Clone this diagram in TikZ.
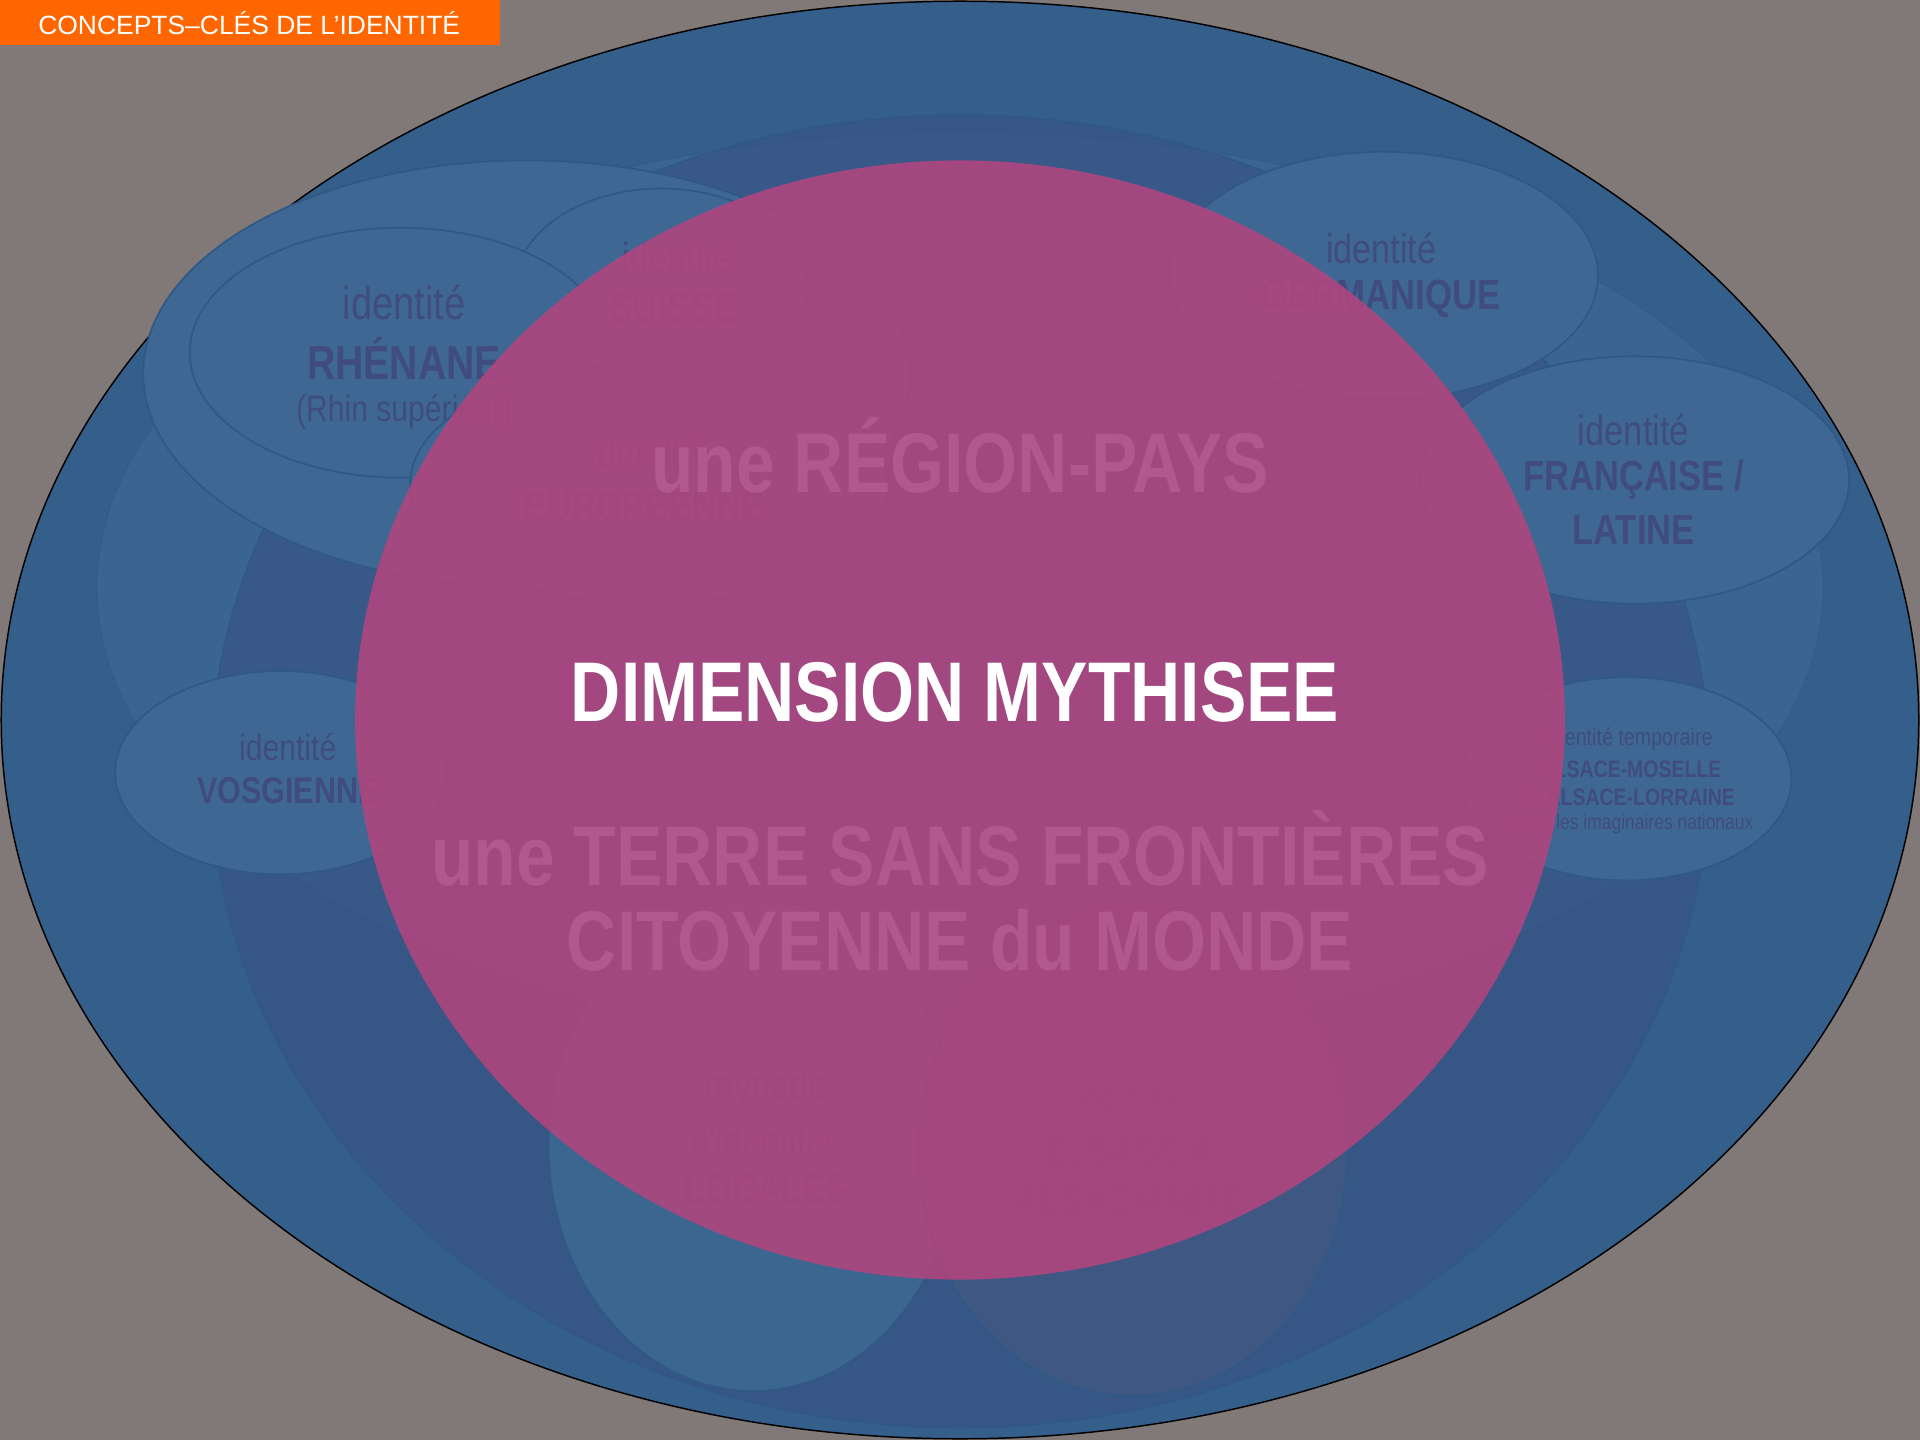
\documentclass[tikz,border=0pt]{standalone}
\usepackage{fontspec}
\setmainfont{Liberation Sans}
\newfontfamily\nar[FakeStretch=0.82]{Liberation Sans}
\definecolor{bgc}{HTML}{817977}
\definecolor{outc}{HTML}{355F8B}
\definecolor{lc}{HTML}{3A6590}
\definecolor{sc}{HTML}{375184}
\definecolor{ellc}{HTML}{3E6893}
\definecolor{edgec}{HTML}{2F5885}
\definecolor{locc}{HTML}{3B6690}
\definecolor{alsc}{HTML}{3E5883}
\definecolor{txtc}{HTML}{404C7E}
\definecolor{pinkc}{HTML}{B1457E}
\definecolor{ptxt}{HTML}{B0588F}
\definecolor{orangec}{HTML}{FF6600}
\begin{document}
\begin{tikzpicture}[x=0.5pt,y=-0.5pt,
  ell/.style={fill=ellc, draw=edgec, line width=0.7pt},
  lbl/.style={text=txtc, inner sep=0pt, align=center},
  reg/.style={lbl, font=\nar\fontsize{#1}{#1}\selectfont},
  bld/.style={lbl, font=\nar\bfseries\fontsize{#1}{#1}\selectfont},
  big/.style={inner sep=0pt, text=ptxt, font=\nar\bfseries\fontsize{34.6}{36}\selectfont}]
\useasboundingbox (0,0) rectangle (1568,1176);
\fill[bgc] (0,0) rectangle (1568,1176);
% outer ellipse
\draw[fill=outc, draw=black, line width=0.6pt] (784,588) ellipse [x radius=783, y radius=587];
% large lighter ellipse
\draw[fill=lc, draw=edgec!60!lc, line width=0.5pt] (784,480) ellipse [x radius=705, y radius=372];
% second ellipse (semi transparent)
\draw[fill=sc, fill opacity=0.6, draw=edgec, line width=0.6pt] (784,630) ellipse [x radius=612, y radius=536];
% Rhenane outer
\draw[ell] (430,305) ellipse [x radius=313, y radius=174];
% Suisse
\draw[ell] (540,236) ellipse [x radius=120, y radius=82];
% Rhenane inner
\draw[ell] (327,288) ellipse [x radius=172, y radius=102];
% Europeenne
\draw[ell] (530,395) ellipse [x radius=195, y radius=98];
% Germanique
\draw[ell] (1130,225) ellipse [x radius=175, y radius=101];
% Francaise
\draw[ell] (1335,392) ellipse [x radius=175, y radius=101];
% Alsace-Moselle
\draw[ell] (1328,636) ellipse [x radius=135, y radius=83];
% Vosgienne
\draw[ell] (229,631) ellipse [x radius=135, y radius=83];
% Locales
\draw[fill=locc, draw=edgec, line width=0.6pt] (615,935) ellipse [x radius=167, y radius=201];
% Alsacianite
\draw[fill=alsc, draw=edgec, line width=0.6pt] (925,940) ellipse [x radius=175, y radius=200];
% labels
\node[reg=19] (rh1) at (330,247) {identité};
\node[bld=19.5] (rh2) at (330,293) {RHÉNANE};
\node[reg=15] (rh3) at (330,336) {(Rhin supérieur)};
\node[reg=17] (su1) at (553,210) {identité};
\node[bld=17.5] (su2) at (550,251) {SUISSE};
\node[reg=17] (eu1) at (527,370) {identité};
\node[bld=17.2] (eu2) at (526,410) {EUROPÉENNE};
\node[reg=17] (ge1) at (1128,203) {identité};
\node[bld=17.3] (ge2) at (1128,244) {GERMANIQUE};
\node[reg=17.2] (fr1) at (1334,351) {identité};
\node[bld=17.2] (fr2) at (1334,392) {FRANÇAISE /};
\node[bld=17.2] (fr3) at (1334,433) {LATINE};
\node[reg=15] (vo1) at (235,610) {identité};
\node[bld=15.2] (vo2) at (235,646) {VOSGIENNE};
\node[reg=9.8] (am1) at (1332,604) {identité temporaire};
\node[bld=9.7] (am2) at (1332,628) {ALSACE-MOSELLE};
\node[bld=9.7] (am3) at (1332,651) {\& ALSACE-LORRAINE};
\node[reg=8.7] (am4) at (1334,673) {dans les imaginaires nationaux};
\node[reg=17] (lo1) at (626,889) {myriade};
\node[reg=17] (lo2) at (626,932) {d'identités};
\node[bld=17.2] (lo3) at (626,971) {LOCALES};
\node[reg=17] (al1) at (923,895) {identité};
\node[bld=17] (al2) at (923,937) {ELSÀSS \&};
\node[bld=17.2] (al3) at (923,977) {ALSACIANITÉ};
% pink circle
\fill[pinkc, fill opacity=0.88] (784,588) ellipse [x radius=494, y radius=457];
\node[big] (rp) at (784,372) {une RÉGION-PAYS};
\node[big, text=white] (dm) at (780,565) {DIMENSION MYTHISEE};
\node[big] (tf) at (784,693) {une TERRE SANS FRONTIÈRES};
\node[big] (cm) at (784,768) {CITOYENNE du MONDE};
% title bar
\fill[orangec] (0,0) rectangle (408,37);
\node[inner sep=0pt, text=white, font=\fontsize{10.8}{12}\selectfont] (title) at (203.5,19) {CONCEPTS–CLÉS DE L'IDENTITÉ};
\end{tikzpicture}
\end{document}
